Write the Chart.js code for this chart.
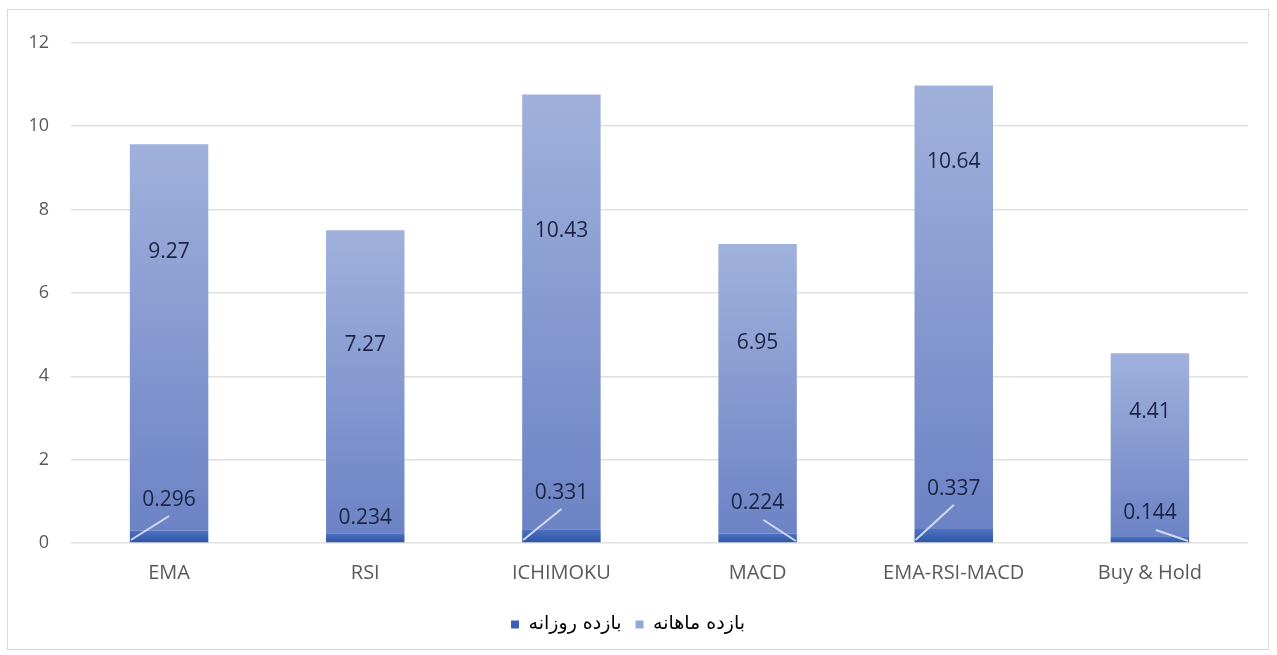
<!DOCTYPE html>
<html>
<head>
<meta charset="utf-8">
<script src="https://cdn.jsdelivr.net/npm/chart.js@4"></script>
<style>
  body { margin: 0; background: #fff; }
  #box { position: absolute; left: 7px; top: 9px; width: 1260px; height: 639px; border: 1px solid #d9d9d9; }
</style>
</head>
<body>
<div id="box"><canvas id="bar-chart"></canvas></div>
<script>
var categories = ["EMA", "RSI", "ICHIMOKU", "MACD", "EMA-RSI-MACD", "Buy & Hold"];
var dailyReturn = [0.296, 0.234, 0.331, 0.224, 0.337, 0.144];
var monthlyReturn = [9.27, 7.27, 10.43, 6.95, 10.64, 4.41];
var seriesNames = ["بازده روزانه", "بازده ماهانه"];
var yTicks = [0, 2, 4, 6, 8, 10, 12];

// where Excel had the labels dragged to (px above zero / below bar top)
var dailyLift = [43, 25, 50, 40, 54, 30];
var monthlyDrop = [108, 115, 137, 99, 77, 59];
var leader = ["left", null, "left", "right", "left", "right"];

function barGradient(top, bottom, ctx) {
  var chart = ctx.chart;
  if (ctx.dataIndex === undefined || !chart.chartArea) return top;
  var y = chart.scales.y;
  var i = ctx.dataIndex;
  var lo = ctx.datasetIndex === 0 ? 0 : dailyReturn[i];
  var hi = ctx.datasetIndex === 0 ? dailyReturn[i] : dailyReturn[i] + monthlyReturn[i];
  var g = chart.ctx.createLinearGradient(0, y.getPixelForValue(hi), 0, y.getPixelForValue(lo));
  g.addColorStop(0, top);
  g.addColorStop(1, bottom);
  return g;
}

var labelPlugin = {
  id: "valueLabels",
  afterDatasetsDraw: function (chart) {
    var c = chart.ctx;
    var y = chart.scales.y;
    var zero = y.getPixelForValue(0);
    var daily = chart.getDatasetMeta(0).data;
    var monthly = chart.getDatasetMeta(1).data;
    c.save();
    c.font = "21px 'Open Sans'";
    c.textAlign = "center";
    c.textBaseline = "middle";
    for (var i = 0; i < categories.length; i++) {
      var bar = monthly[i];
      var half = bar.width / 2;
      var dy = zero - dailyLift[i];
      // leader lines
      c.strokeStyle = "rgba(222,229,250,0.9)";
      c.lineWidth = 2;
      if (leader[i] === "left") {
        c.beginPath();
        c.moveTo(bar.x - half + 1, zero - 3);
        c.lineTo(bar.x, dy + 16);
        c.stroke();
      } else if (leader[i] === "right") {
        c.beginPath();
        c.moveTo(bar.x + 6, dy + 17);
        c.lineTo(bar.x + half - 1, zero - 2);
        c.stroke();
      }
      c.fillStyle = "#1b2442";
      c.fillText(String(dailyReturn[i]), daily[i].x, dy);
      c.fillText(String(monthlyReturn[i]), bar.x, bar.y + monthlyDrop[i]);
    }
    c.restore();
  }
};

new Chart(document.getElementById("bar-chart"), {
  type: "bar",
  data: {
    labels: categories,
    datasets: [{
      label: seriesNames[0],
      data: dailyReturn,
      backgroundColor: function (ctx) { return barGradient("#4d72c4", "#2d53a3", ctx); },
      categoryPercentage: 0.8,
      barPercentage: 0.5
    }, {
      label: seriesNames[1],
      data: monthlyReturn,
      backgroundColor: function (ctx) { return barGradient("#a0b1dc", "#6c83c5", ctx); },
      categoryPercentage: 0.8,
      barPercentage: 0.5
    }]
  },
  options: {
    responsive: true,
    maintainAspectRatio: false,
    animation: false,
    layout: { padding: { top: 18, right: 20, bottom: 5, left: 0 } },
    plugins: {
      tooltip: { enabled: false },
      legend: {
        position: "bottom",
        labels: {
          boxWidth: 8,
          boxHeight: 8,
          padding: 14,
          color: "#595959",
          font: { family: "'DejaVu Sans'", size: 19 },
          generateLabels: function (chart) {
            return [["#3a5fb5", seriesNames[0]], ["#93a6d8", seriesNames[1]]].map(function (p, i) {
              return { text: p[1], fillStyle: p[0], strokeStyle: p[0], lineWidth: 0, datasetIndex: i };
            });
          }
        }
      }
    },
    scales: {
      x: {
        stacked: true,
        grid: { display: false, drawTicks: false },
        border: { display: false },
        ticks: { color: "#595959", font: { family: "'Open Sans'", size: 20 }, padding: 18 },
        afterFit: function (s) { s.height = 58; }
      },
      y: {
        stacked: true,
        min: 0,
        max: 12,
        afterBuildTicks: function (s) { s.ticks = yTicks.map(function (v) { return { value: v }; }); },
        grid: { color: "#e0e0e0", lineWidth: 1.5, drawTicks: false },
        border: { display: false },
        ticks: { color: "#595959", font: { family: "'Open Sans'", size: 18 }, padding: 22 },
        afterFit: function (s) { s.width = 63; }
      }
    }
  },
  plugins: [labelPlugin]
});
</script>
</body>
</html>
